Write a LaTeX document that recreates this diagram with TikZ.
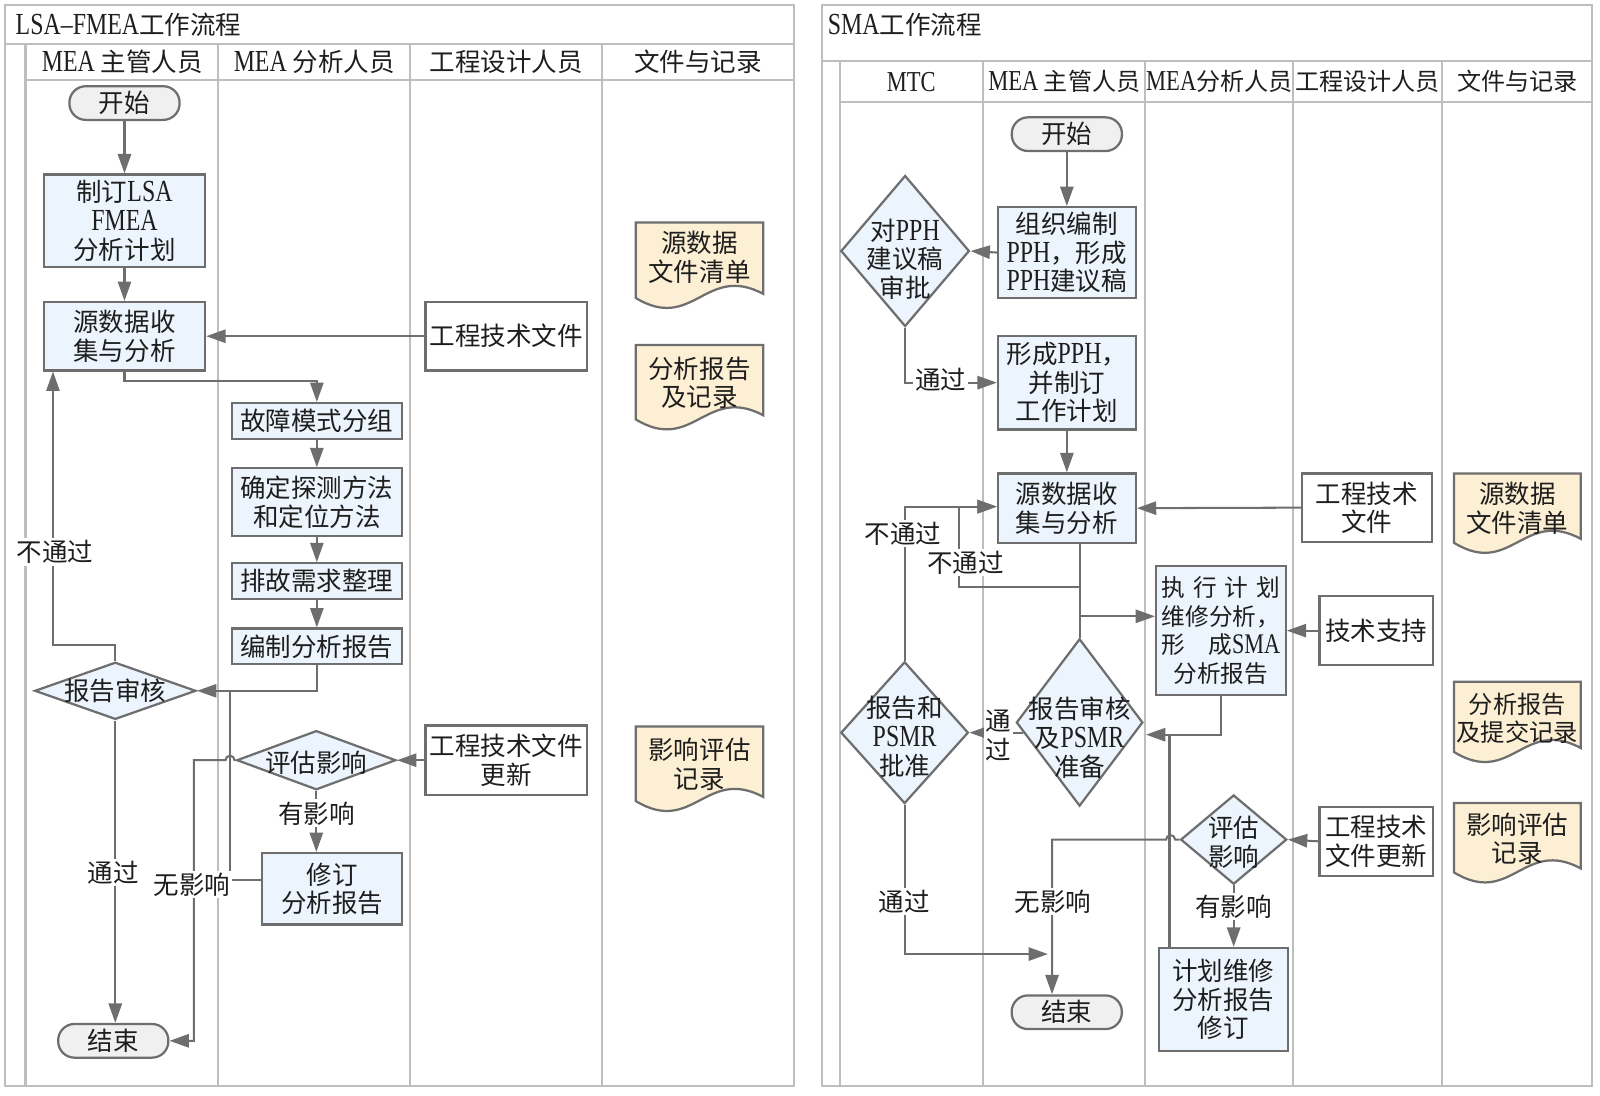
\documentclass[tikz,border=0pt]{standalone}
\usepackage{fontspec}
\setmainfont{Liberation Serif}[Scale=1.2,FakeStretch=0.78]
\newfontfamily\cjkfont{Noto Sans CJK SC}
\XeTeXinterchartokenstate=1
\newXeTeXintercharclass\cjkclass
\newcount\cjkcnt
\cjkcnt="3000
\loop
\XeTeXcharclass\cjkcnt=\cjkclass
\advance\cjkcnt by 1
\ifnum\cjkcnt<"A000\repeat
\cjkcnt="FF00
\loop
\XeTeXcharclass\cjkcnt=\cjkclass
\advance\cjkcnt by 1
\ifnum\cjkcnt<"FFF0\repeat
\XeTeXinterchartoks 0 \cjkclass = {\cjkfont}
\XeTeXinterchartoks 4095 \cjkclass = {\cjkfont}
\XeTeXinterchartoks \cjkclass 0 = {\rmfamily}
\XeTeXinterchartoks 4095 0 = {\rmfamily}
\usetikzlibrary{arrows.meta,shapes.geometric,calc}
\definecolor{boxfill}{RGB}{236,245,253}
\definecolor{termfill}{RGB}{240,240,240}
\definecolor{docfill}{RGB}{252,239,211}
\definecolor{edgec}{RGB}{110,110,110}
\definecolor{lanec}{RGB}{190,190,190}
\definecolor{txt}{RGB}{30,30,30}
\tikzset{
  lanes/.style={draw=lanec, line width=1pt},
  procbox/.style={rectangle, draw=edgec, line width=1.1pt, fill=boxfill, text=txt, align=center, inner sep=0pt},
  whitebox/.style={procbox, fill=white},
  termbox/.style={rectangle, rounded corners=8pt, draw=edgec, line width=1.1pt, fill=termfill, text=txt, inner sep=0pt, minimum width=54pt, minimum height=16.5pt},
  decbox/.style={diamond, draw=edgec, line width=1.1pt, fill=boxfill, inner sep=0pt},
  connline/.style={draw=edgec, line width=1pt},
  arrline/.style={connline, -{Triangle[length=9.5pt,width=6.5pt]}},
  lblnode/.style={fill=white, text=txt, inner sep=1pt, align=center},
  txtnode/.style={text=txt, align=center, inner sep=0pt},
  docbox/.style={draw=edgec, line width=1.1pt, fill=docfill},
}
\newcommand\docshape[4]{%
  \draw[docbox] (#1,#2) -- (#3,#2) -- (#3,{#4-4}) .. controls ({#1+0.55*(#3-#1)},{#4-34}) and ({#1+0.45*(#3-#1)},{#4+34}) .. (#1,#4) -- cycle;}
\begin{document}
\begin{tikzpicture}[x=0.5pt,y=-0.5pt,font=\fontsize{12.5}{14}\selectfont]
\useasboundingbox (0,0) rectangle (1568,1074);
% ---------- left frame ----------
\draw[lanes] (5,5) rectangle (778,1064);
\draw[lanes] (5,43) -- (778,43);
\draw[lanes] (25,78) -- (778,78);
\draw[lanes] (25,43) -- (25,1064);
\foreach \x in {214,402,590} \draw[lanes] (\x,43) -- (\x,1064);
% ---------- right frame ----------
\draw[lanes] (806,5) rectangle (1560,1064);
\draw[lanes] (806,60) -- (1560,60);
\draw[lanes] (823,100) -- (1560,100);
\draw[lanes] (823,60) -- (823,1064);
\foreach \x in {963,1122,1267,1413} \draw[lanes] (\x,60) -- (\x,1064);
% ---------- titles and headers ----------
\node[txtnode, anchor=west] (t1) at (15,24) {LSA–FMEA工作流程};
\node[txtnode] (h11) at (120,61) {MEA 主管人员};
\node[txtnode] (h12) at (308,61) {MEA 分析人员};
\node[txtnode] (h13) at (496,61) {工程设计人员};
\node[txtnode] (h14) at (684,61) {文件与记录};
\node[txtnode, anchor=west] (t2) at (811,24) {SMA工作流程};
\begin{scope}[font=\fontsize{11.8}{14}\selectfont]
\node[txtnode] (h21) at (893,80) {MTC};
\node[txtnode] (h22) at (1043,80) {MEA 主管人员};
\node[txtnode] (h23) at (1195,80) {MEA分析人员};
\node[txtnode] (h24) at (1340,80) {工程设计人员};
\node[txtnode] (h25) at (1487,80) {文件与记录};
\end{scope}
% ---------- left nodes ----------
\node[termbox] (s1) at (122,101) {开始};
\node[procbox, minimum width=79pt, minimum height=45.5pt] (p1) at (122,216.5) {制订LSA\\FMEA\\分析计划};
\node[procbox, minimum width=79pt, minimum height=33.5pt] (src1) at (122,329.5) {源数据收\\集与分析};
\node[whitebox, minimum width=79pt, minimum height=33.5pt] (eng1) at (496,329.5) {工程技术文件};
\node[procbox, minimum width=83.5pt, minimum height=17.5pt] (g1) at (310.5,412.5) {故障模式分组};
\node[procbox, minimum width=83.5pt, minimum height=33pt] (det1) at (310.5,492) {确定探测方法\\和定位方法};
\node[procbox, minimum width=83.5pt, minimum height=17.5pt] (trb1) at (310.5,569.5) {排故需求整理};
\node[procbox, minimum width=83.5pt, minimum height=17.5pt] (rep1) at (310.5,633.5) {编制分析报告};
\node[decbox, minimum width=79pt, minimum height=28pt] (rev1) at (113,677) {};
\node[txtnode] (rev1t) at (113,677) {报告审核};
\node[decbox, minimum width=78pt, minimum height=29pt] (eva1) at (310,745) {};
\node[txtnode] (eva1t) at (310,748) {评估影响};
\node[whitebox, minimum width=79pt, minimum height=34pt] (upd1) at (496,745) {工程技术文件\\更新};
\node[procbox, minimum width=68.5pt, minimum height=35pt] (rvs1) at (325.5,871) {修订\\分析报告};
\node[termbox] (e1) at (111,1020) {结束};
% left documents
\docshape{623}{218}{748}{292}
\node[txtnode] (d1) at (685.5,252) {源数据\\文件清单};
\docshape{623}{338}{748}{411}
\node[txtnode] (d2) at (685.5,375) {分析报告\\及记录};
\docshape{623}{712}{748}{785}
\node[txtnode] (d3) at (685.5,749) {影响评估\\记录};
% ---------- left connectors ----------
\draw[arrline] (s1.south) -- (p1.north);
\draw[arrline] (p1.south) -- (src1.north);
\draw[arrline] (eng1.west) -- (src1.east);
\draw[arrline] (src1.south) -- ++(0,9) -| (g1.north);
\draw[arrline] (g1.south) -- (det1.north);
\draw[arrline] (det1.south) -- (trb1.north);
\draw[arrline] (trb1.south) -- (rep1.north);
\draw[arrline] (rep1.south) |- (rev1.east);
\draw[arrline] (rev1.north) -- ++(0,-16) -| ([xshift=5pt]src1.south west);
\draw[arrline] (rev1.south) -- (rev1.south |- e1.north);
\coordinate (h1) at (229.8,745);
\draw[arrline] (eva1.west) -- (h1) arc[start angle=0,end angle=180,radius=2.2pt] -- (190,745) |- (e1.east);
\draw[arrline] (eva1.south) -- (eva1.south |- rvs1.north);
\coordinate (j1) at (225.4,677);
\draw[connline] ([yshift=4.5pt]rvs1.west) -| (j1);
\draw[arrline] (upd1.west) -- (eva1.east);
\node[lblnode] (l1) at (54,541) {不通过};
\node[lblnode] (l2) at (111,855) {通过};
\node[lblnode] (l3) at (188,867) {无影响};
\node[lblnode] (l4) at (310,797) {有影响};
% ---------- right nodes ----------
\node[termbox] (s2) at (1045.5,131.5) {开始};
\node[procbox, minimum width=67.5pt, minimum height=44.5pt] (org2) at (1045.5,247.5) {组织编制\\PPH，形成\\PPH建议稿};
\node[decbox, minimum width=63pt, minimum height=74pt] (app2) at (887,246) {};
\node[txtnode] (app2t) at (887,254) {对PPH\\建议稿\\审批};
\node[procbox, minimum width=67.5pt, minimum height=46pt] (form2) at (1045.5,375) {形成PPH，\\并制订\\工作计划};
\node[procbox, minimum width=67.5pt, minimum height=34pt] (src2) at (1045.5,498) {源数据收\\集与分析};
\node[whitebox, minimum width=63.5pt, minimum height=33.5pt] (eng2) at (1339.5,497.5) {工程技术\\文件};
\node[procbox, minimum width=63.5pt, minimum height=63pt, font=\fontsize{11.6}{13.9}\selectfont] (exe2) at (1196.5,618) {\makebox[58pt]{执\hfill 行\hfill 计\hfill 划}\\维修分析，\\\makebox[58pt]{形\hfill 成SMA}\\分析报告};
\node[whitebox, minimum width=55.5pt, minimum height=34pt] (sup2) at (1348.5,618) {技术支持};
\node[decbox, minimum width=62pt, minimum height=82pt] (shen2) at (1058,708) {};
\node[txtnode] (shen2t) at (1058,723) {报告审核\\及PSMR\\准备};
\node[decbox, minimum width=62.5pt, minimum height=69.5pt] (pz2) at (886.5,718) {};
\node[txtnode] (pz2t) at (886.5,722) {报告和\\PSMR\\批准};
\node[whitebox, minimum width=55.5pt, minimum height=34pt] (upd2) at (1348.5,824.5) {工程技术\\文件更新};
\node[decbox, minimum width=52pt, minimum height=43.75pt] (eva2) at (1209,822.8) {};
\node[txtnode] (eva2t) at (1209,825.5) {评估\\影响};
\node[procbox, minimum width=63pt, minimum height=50.5pt] (rvs2) at (1199,979.5) {计划维修\\分析报告\\修订};
\node[termbox] (e2) at (1045.4,992) {结束};
% right documents
\docshape{1425}{464}{1549}{532}
\node[txtnode] (r1) at (1487,498) {源数据\\文件清单};
\docshape{1425}{668}{1549}{737}
\node[txtnode, font=\fontsize{11.9}{14}\selectfont] (r2) at (1487,704) {分析报告\\及提交记录};
\docshape{1425}{787}{1549}{855}
\node[txtnode] (r3) at (1487,822) {影响评估\\记录};
% ---------- right connectors ----------
\draw[arrline] (s2.south) -- (org2.north);
\draw[arrline] (org2.west) -- (app2.east);
\draw[arrline] (app2.south) |- (form2.west);
\draw[arrline] (form2.south) -- (src2.north);
\draw[arrline] (eng2.west) -- (src2.east);
\draw[arrline] (src2.south -| shen2.north) |- ([yshift=7pt]exe2.west);
\coordinate (k1) at (940,575.6);
\draw[arrline] (shen2.north) |- (k1) |- ([yshift=0.75pt]src2.west);
\draw[arrline] (pz2.north) |- ([yshift=0.75pt]src2.west);
\coordinate (k2) at (1123,720);
\draw[arrline] (exe2.south) |- (k2);
\path (rvs2.north west) ++(5.6pt,0) coordinate (k5);
\draw[connline] (k5) -- (k5 |- k2);
\draw[arrline] ([xshift=4pt]shen2.west |- pz2.east) -- (pz2.east);
\coordinate (k3) at (1027,935);
\draw[arrline] (pz2.south) |- (k3);
\draw[arrline] (eva2.west) -- (1151.6,822.8) arc[start angle=0,end angle=180,radius=2.2pt] -- (1031,822.8) -- ([xshift=-7.2pt]e2.north);
\draw[arrline] (eva2.south) -- (eva2.south |- rvs2.north);
\draw[arrline] (upd2.west) -- (eva2.east);
\draw[arrline] (sup2.west) -- (exe2.east);
\node[lblnode] (m1) at (922,372.5) {通过};
\node[lblnode] (m2) at (885,522.7) {不通过};
\node[lblnode] (m3) at (946,551.4) {不通过};
\node[lblnode] (m4) at (978.5,720.5) {通\\过};
\node[lblnode] (m5) at (886,883.6) {通过};
\node[lblnode] (m6) at (1032,883.6) {无影响};
\node[lblnode] (m7) at (1209,888.5) {有影响};
\end{tikzpicture}
\end{document}
